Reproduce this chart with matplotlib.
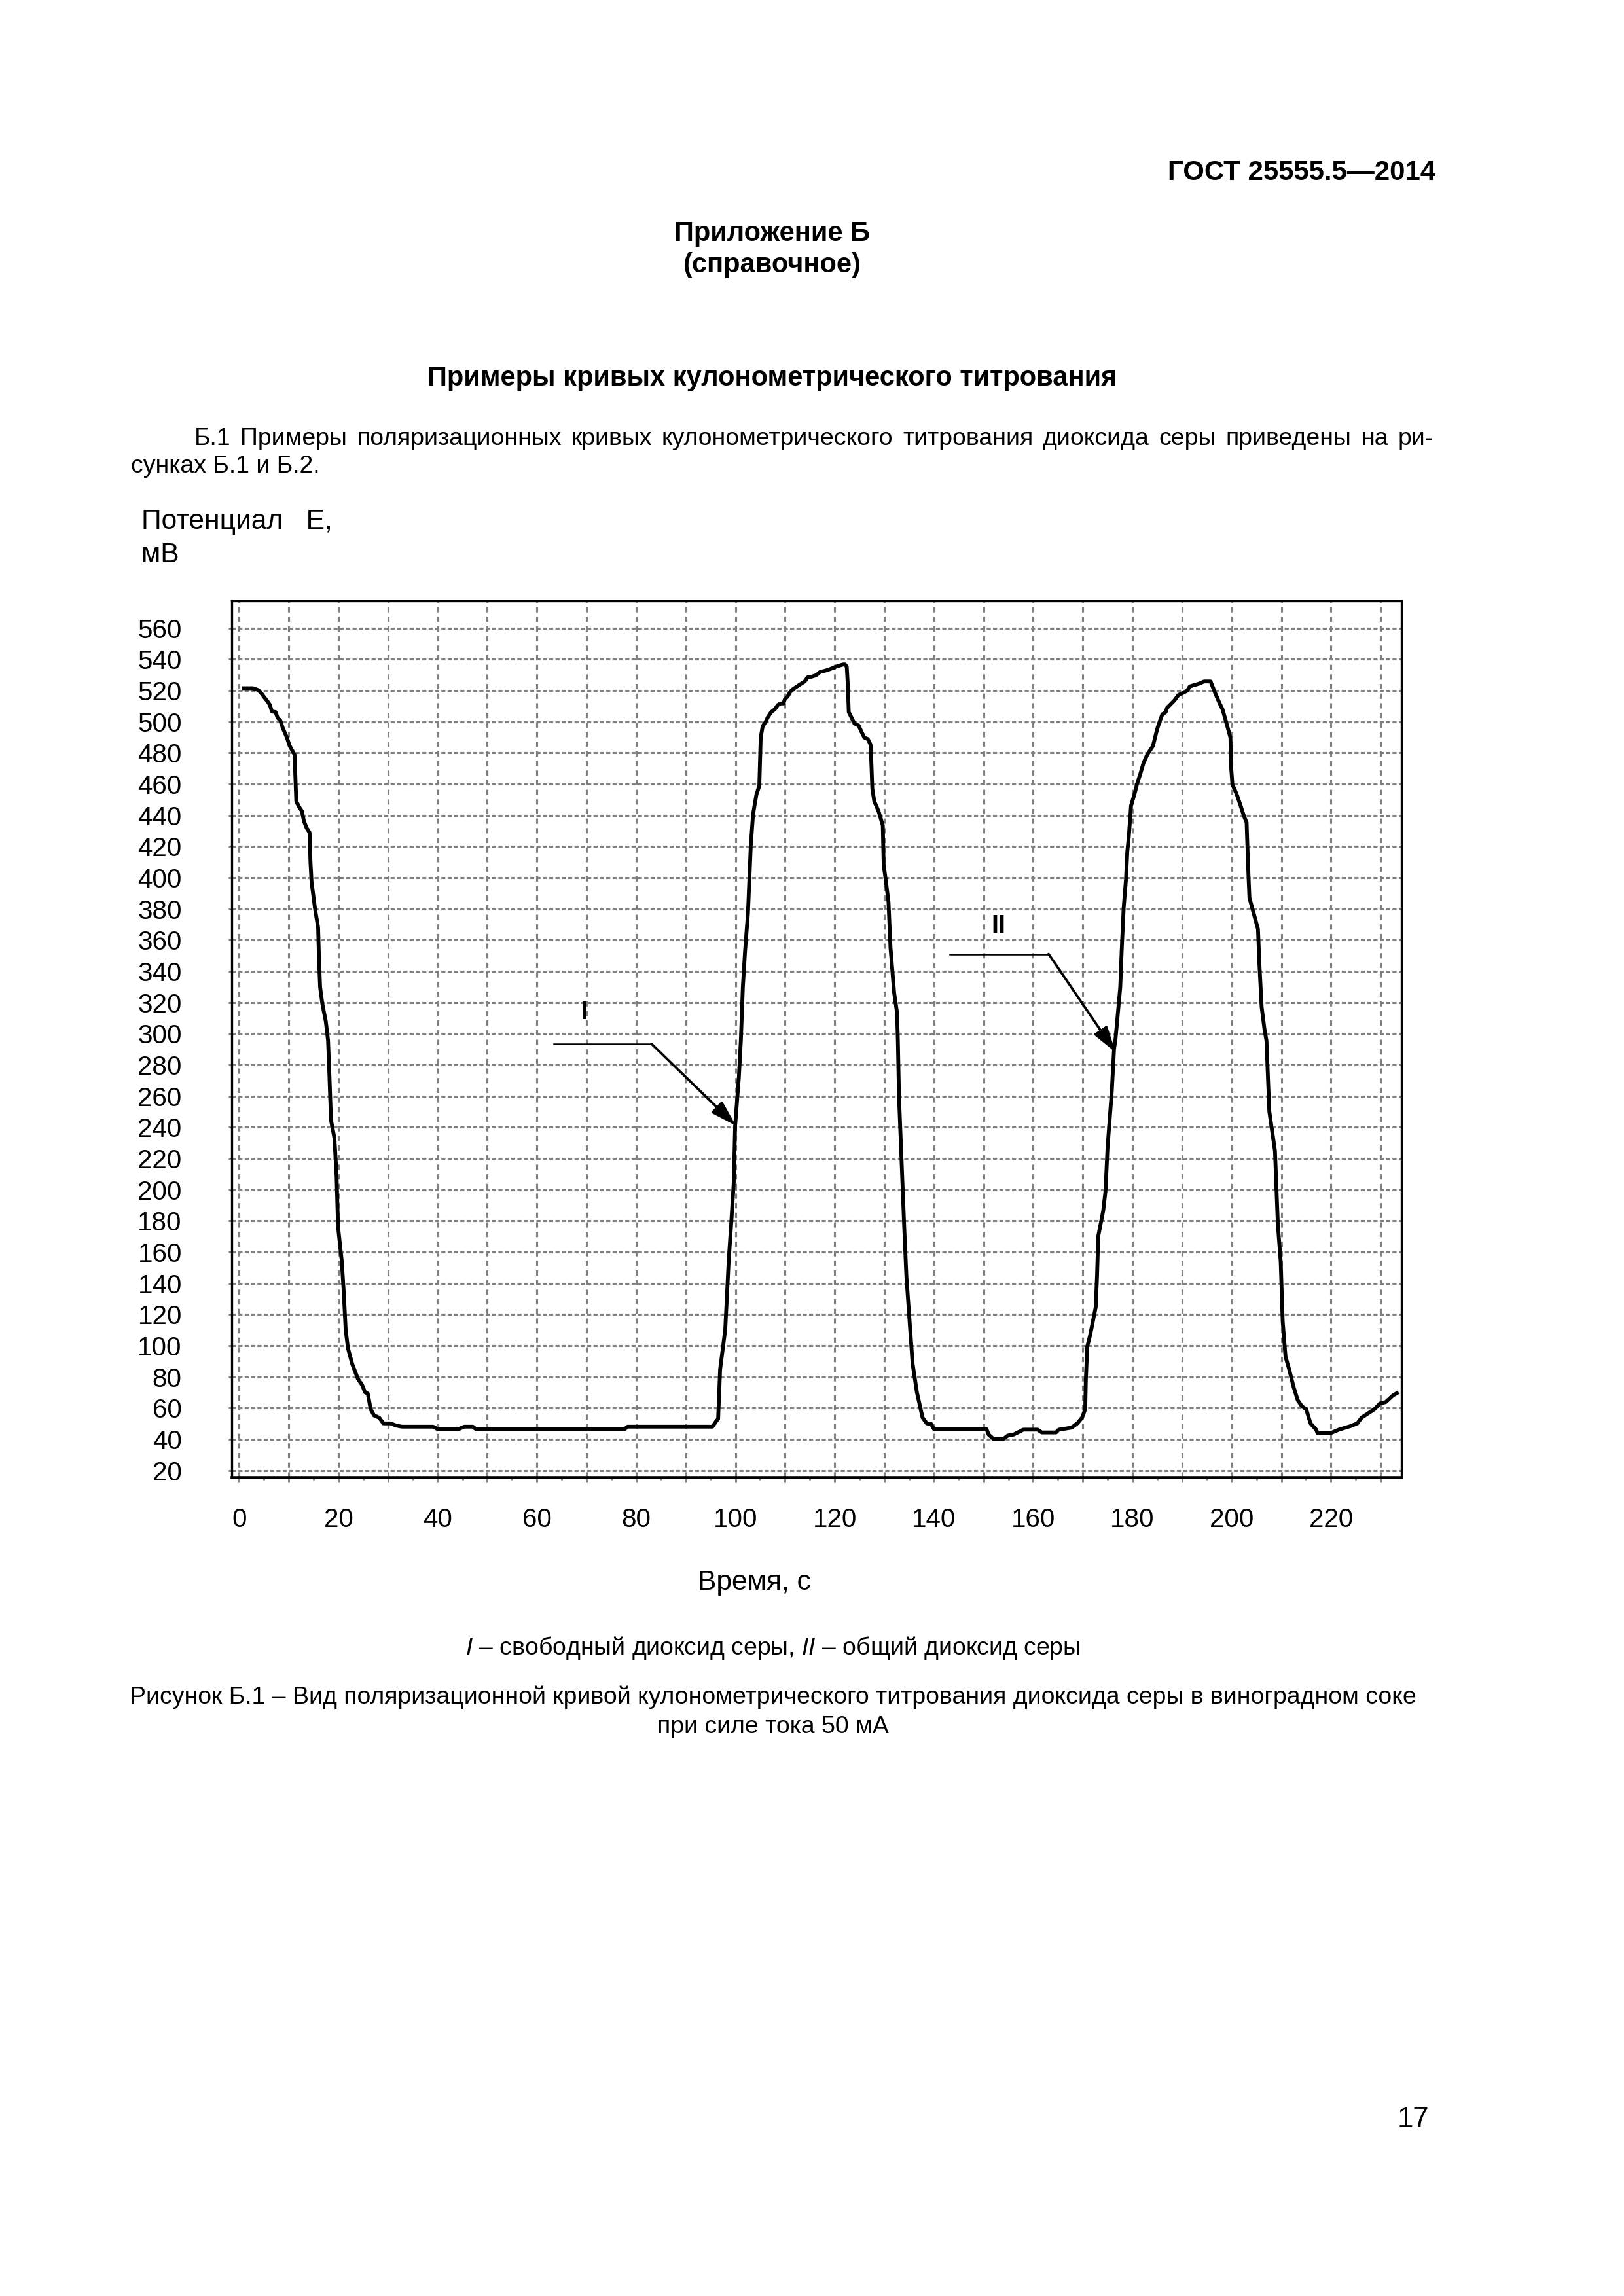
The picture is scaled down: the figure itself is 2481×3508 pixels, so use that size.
import matplotlib
matplotlib.use('Agg')
import matplotlib.pyplot as plt
from matplotlib.ticker import FixedLocator, FixedFormatter

plt.rcParams['font.family'] = ['Liberation Sans', 'DejaVu Sans']
plt.rcParams['mathtext.fontset'] = 'custom'
plt.rcParams['mathtext.rm'] = 'Liberation Sans'
plt.rcParams['mathtext.it'] = 'Liberation Sans:italic'

# ---------------- data ----------------
time_s = [
    0.58, 2.75, 3.9, 4.64, 5.04, 5.61, 6.19, 6.59, 7.33, 7.73, 8.30, 8.76, 9.62, 10.19,
    11.16, 11.33, 11.51, 12.08, 12.65, 13.05, 13.62, 14.19, 14.37, 14.59, 15.34, 15.91,
    16.08, 16.31, 16.77, 17.45, 17.91, 18.2, 18.5, 19.2, 19.63, 19.92, 20.66, 21.06,
    21.46, 21.92, 22.77, 23.92, 24.78, 25.35, 25.92, 26.5, 27.18, 28.21, 29.07, 30.5,
    31.64, 32.79, 39.08, 39.94, 44.23, 45.37, 47.09, 47.66, 77.7, 78.27, 95.37,
    96.23, 96.51, 96.91, 97.94, 98.63, 99.2, 99.66, 99.94, 100.69, 101.09, 101.49,
    101.95, 102.52, 102.8, 103.09, 103.55, 104.24, 104.81, 105.09, 105.49, 106.07,
    106.52, 107.21, 107.95, 108.53, 109.1, 109.67, 109.96, 110.53, 110.99, 111.39,
    112.82, 113.96, 114.53, 115.39, 116.25, 117.11, 117.97, 119.11, 120.25, 121.68,
    122.08, 122.43, 122.66, 122.83, 123.4, 123.97, 124.83, 125.4, 125.98, 126.66,
    127.23, 127.41, 127.58, 127.98, 128.84, 129.69, 129.87, 130.27, 130.84, 131.24,
    131.98, 132.56, 132.73, 132.96, 133.53, 133.99, 134.44, 135.13, 135.7, 136.56,
    137.7, 138.56, 139.42, 139.99, 150.57, 151.03, 152.0, 154.0, 154.87, 156.01,
    157.16, 158.01, 160.87, 161.73, 164.59, 165.16, 166.02, 167.74, 168.88, 169.85,
    170.48, 170.6, 170.88, 171.46, 172.6, 172.87, 173.1, 174.11, 174.57, 174.97,
    175.83, 176.29, 176.6, 177.54, 177.83, 178.23, 178.69, 178.97, 179.26, 179.72,
    180.4, 180.98, 181.55, 182.23, 182.98, 184.12, 184.41, 184.98, 185.55, 186.01,
    186.7, 186.98, 187.84, 188.41, 189.27, 190.42, 190.99, 191.56, 192.42, 193.45,
    194.42, 195.74, 196.14, 196.71, 197.57, 198.14, 198.71, 199.74, 199.86, 200.14,
    201.0, 201.69, 202.43, 203.0, 203.29, 203.57, 204.43, 205.29, 205.58, 206.03,
    206.61, 207.0, 207.58, 208.72, 209.3, 209.87, 210.27, 210.84, 211.58, 212.44,
    213.3, 214.16, 215.02, 215.87, 217.02, 217.3, 219.88, 221.6, 223.88, 225.31,
    226.17, 227.89, 228.75, 229.89, 231.04, 232.47, 233.61,
]
potential_mV = [
    521.5, 521.5, 520.2, 517.5, 515.7, 513.5, 510.8, 506.6, 506.2, 502.6, 500.7, 496.2, 489.8, 484.4,
    478.9, 464.4, 448.9, 445.3, 442.6, 436.2, 431.7, 428.9, 409.8, 397.1, 378.9, 368.0,
    348.0, 329.8, 318.9, 308.0, 295.6, 272.0, 244.7, 232.9, 208.3, 176.3, 154.5, 135.0,
    110.1, 98.3, 88.3, 78.7, 74.7, 70.1, 69.2, 59.2, 55.2, 53.8, 50.1, 50.1,
    48.7, 48.0, 48.0, 46.5, 46.5, 48.0, 48.0, 46.5, 46.5, 48.0, 48.0,
    52.0, 52.9, 84.7, 110.1, 153.8, 181.0, 204.7, 241.1, 272.0, 295.6, 329.8,
    353.5, 377.1, 398.9, 420.7, 440.7, 453.5, 458.9, 489.8, 497.1, 499.8,
    502.9, 506.2, 508.0, 510.7, 511.7, 511.7, 514.4, 516.2, 518.9, 520.4,
    523.5, 525.8, 528.4, 528.9, 529.8, 532.0, 532.6, 533.8, 535.3, 536.7,
    536.7, 535.3, 522.6, 506.2, 502.6, 498.9, 497.5, 493.5, 489.8, 488.9,
    485.3, 471.7, 457.1, 448.9, 442.6, 433.5, 408.0, 398.9, 384.4, 355.3,
    326.2, 313.5, 295.6, 259.2, 213.8, 177.4, 144.7, 113.8, 88.3, 70.1,
    53.8, 50.1, 49.8, 46.5, 46.5, 42.9, 40.1, 40.1, 42.3, 42.9,
    44.7, 46.1, 46.1, 44.3, 44.3, 46.1, 46.5, 47.4, 50.1, 53.8,
    59.2, 77.4, 99.2, 106.5, 124.7, 145.0, 170.0, 186.5, 199.2, 226.5,
    262.9, 290.1, 297.1, 329.8, 353.5, 380.7, 398.9, 417.1, 426.2, 446.2,
    453.5, 460.7, 466.2, 473.5, 478.9, 484.4, 488.0, 495.3, 500.7, 504.7,
    506.2, 508.9, 511.7, 513.5, 517.1, 518.9, 519.8, 522.6, 523.5, 524.4,
    525.8, 525.8, 522.6, 518.0, 511.7, 508.0, 501.7, 489.8, 471.7, 459.8,
    453.5, 447.1, 439.8, 435.3, 408.0, 387.1, 377.1, 367.1, 344.4, 317.1,
    302.6, 295.6, 250.1, 224.7, 177.4, 153.8, 115.6, 92.9, 84.7, 73.8,
    65.0, 61.0, 59.2, 50.1, 46.1, 43.8, 43.8, 46.1, 48.3, 50.1,
    53.8, 57.4, 59.2, 62.9, 63.8, 68.0, 70.1,
]

y_ticks = list(range(20, 561, 20))
x_tick_positions = list(range(0, 231, 10))
x_tick_labels = [str(v) if (v % 20 == 0 and v <= 220) else '' for v in x_tick_positions]

label_I = 'I'
label_II = 'II'
# annotation geometry (data coordinates): label, leader start, bend, arrow tip
ann_I = dict(text=(69.6, 313.5), start=(63.4, 293.4), bend=(83.1, 293.4), tip=(100.1, 241.0))
ann_II = dict(text=(153.0, 368.9), start=(143.25, 351.1), bend=(163.1, 351.1), tip=(176.6, 288.0))

# ---------------- page / figure ----------------
W, H, DPI = 2481, 3508, 300
fig = plt.figure(figsize=(W / DPI, H / DPI), dpi=DPI)
fig.patch.set_facecolor('white')


def fx(px):
    return px / W


def fy(py):
    return 1 - py / H


renderer = fig.canvas.get_renderer()


def text_width(s, **kw):
    t = fig.text(0, 0, s, **kw)
    w = t.get_window_extent(renderer).width
    t.remove()
    return w


def fitted_size(s, target_px, base=10, **kw):
    return base * target_px / text_width(s, fontsize=base, **kw)


# axes box
L, R, T, B = 354, 2141, 918, 2257
ax = fig.add_axes([fx(L), fy(B), (R - L) / W, (B - T) / H])
ax.set_xlim(-1.5, 234.2)
ax.set_ylim(15.6, 577.5)

grid_col = '#808080'
ax.set_axisbelow(True)
ax.xaxis.set_major_locator(FixedLocator(x_tick_positions))
ax.xaxis.set_major_formatter(FixedFormatter(x_tick_labels))
ax.xaxis.set_minor_locator(FixedLocator([v + 5 for v in x_tick_positions if v + 5 < 234]))
ax.set_yticks(y_ticks)
ax.set_yticklabels([str(v) for v in y_ticks])

ax.xaxis.grid(True, which='major', color=grid_col, lw=0.75, linestyle=(0, (2.6, 2.1)))
ax.yaxis.grid(True, which='major', color=grid_col, lw=0.75, linestyle=(0, (2.0, 1.1)))

ax.tick_params(axis='x', which='major', direction='out', length=1.8, width=0.7,
               color=grid_col, labelsize=9.7, pad=9.3, labelcolor='black')
ax.tick_params(axis='x', which='minor', direction='out', length=1.1, width=0.7,
               color=grid_col)
ax.tick_params(axis='y', which='major', direction='out', length=1.2, width=0.7,
               color=grid_col, labelsize=9.7, pad=17.1, labelcolor='black')

for side in ['left', 'right', 'top']:
    ax.spines[side].set_linewidth(0.8)
    ax.spines[side].set_color('black')
ax.spines['bottom'].set_linewidth(1.1)
ax.spines['bottom'].set_color('black')

ax.plot(time_s, potential_mV, color='black', lw=1.4, solid_joinstyle='round',
        solid_capstyle='butt', zorder=3)

for ann, lab, fs in [(ann_I, label_I, 9), (ann_II, label_II, 9.5)]:
    (sx, sy), (bx, by), (tx, ty) = ann['start'], ann['bend'], ann['tip']
    ax.plot([sx, bx], [sy, by], color='black', lw=0.6, zorder=4)
    ax.annotate('', xy=(tx, ty), xytext=(bx, by),
                arrowprops=dict(arrowstyle='-|>,head_length=0.8,head_width=0.24',
                                color='black', lw=0.9, shrinkA=0, shrinkB=0,
                                mutation_scale=10), zorder=4)
    ax.text(ann['text'][0], ann['text'][1], lab, fontsize=fs, fontweight='bold',
            ha='center', va='center', zorder=4)

# ---------------- page texts ----------------
fig.text(fx(2193), fy(264), 'ГОСТ 25555.5—2014', fontsize=10.1, fontweight='bold',
         ha='right', va='center')
fig.text(fx(1180), fy(357), 'Приложение Б', fontsize=10, fontweight='bold',
         ha='center', va='center')
fig.text(fx(1180), fy(405), '(справочное)', fontsize=10, fontweight='bold',
         ha='center', va='center')

title = 'Примеры кривых кулонометрического титрования'
fs_title = fitted_size(title, 1055, fontweight='bold')
fig.text(fx(1180), fy(578), title, fontsize=fs_title, fontweight='bold',
         ha='center', va='center')

caption1 = ('Рисунок Б.1 – Вид поляризационной кривой кулонометрического титрования '
            'диоксида серы в виноградном соке')
fs_body = fitted_size(caption1, 1964)

# justified paragraph line 1
para1 = ('Б.1 Примеры поляризационных кривых кулонометрического титрования '
         'диоксида серы приведены на ри-')
words = para1.split(' ')
widths = [text_width(w, fontsize=fs_body) for w in words]
x0, x1 = 297, 2190
gap = (x1 - x0 - sum(widths)) / (len(words) - 1)
xc = x0
for w, wd in zip(words, widths):
    fig.text(fx(xc), fy(670), w, fontsize=fs_body, ha='left', va='center')
    xc += wd + gap
fig.text(fx(200), fy(712), 'сунках Б.1 и Б.2.', fontsize=fs_body, ha='left', va='center')

fig.text(fx(216), fy(797), 'Потенциал   Е,', fontsize=10.2, ha='left', va='center')
fig.text(fx(216), fy(848), 'мВ', fontsize=10.2, ha='left', va='center')

fig.text(fx(1152), fy(2418), 'Время, с', fontsize=10.2, ha='center', va='center')

fig.text(fx(1180), fy(2518),
         r'$\mathit{I}$ – свободный диоксид серы, $\mathit{II}$ – общий диоксид серы',
         fontsize=fs_body, ha='center', va='center')

fig.text(fx(1181), fy(2593), caption1, fontsize=fs_body, ha='center', va='center')
fig.text(fx(1181), fy(2638), 'при силе тока 50 мА', fontsize=fs_body, ha='center', va='center')

fig.text(fx(2183), fy(3238), '17', fontsize=10.5, ha='right', va='center')

fig.savefig('out.png', dpi=DPI, facecolor='white')
